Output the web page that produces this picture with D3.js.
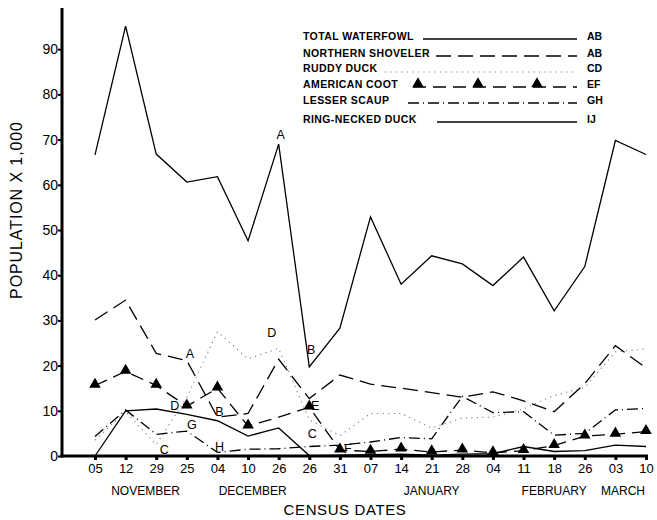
<!DOCTYPE html>
<html>
<head>
<meta charset="utf-8">
<script src="https://cdn.jsdelivr.net/npm/d3@7"></script>
<style>
  html, body { margin: 0; padding: 0; background: #fff; }
  svg { display: block; }
  text { font-family: "Liberation Sans", Arial, sans-serif; fill: #000; }
</style>
</head>
<body>
<svg id="chart" width="657" height="520"></svg>
<script>
// ---------- DATA ----------
const dates = ["05","12","29","25","04","10","26","26","31","07","14","21","28","04","11","18","26","03","10"];
const months = ["NOVEMBER","DECEMBER","JANUARY","FEBRUARY","MARCH"];
const monthAt = [1.65, 5.15, 11, 15, 17.25];   // date index under which each month name is centred
const yTicks = [0,10,20,30,40,50,60,70,80,90];

const totalWaterfowl    = [66.6, 95.1, 66.8, 60.6, 61.8, 47.6, 69.0, 19.7, 28.3, 52.9, 38.0, 44.3, 42.5, 37.7, 44.0, 32.1, 41.9, 69.8, 66.7];
const northernShoveler  = [30.1, 34.5, 22.7, 21.1, 8.6, 9.4, 21.4, 12.7, 17.9, 15.9, 15.0, 14.0, 13.0, 14.2, 12.2, 9.8, 16.0, 24.4, 19.5];
const ruddyDuck         = [3.5, 9.8, 2.5, 13.0, 27.5, 21.5, 23.8, 8.0, 4.5, 9.4, 9.4, 6.2, 8.4, 8.6, 10.4, 13.4, 15.2, 23.0, 23.7];
const americanCoot      = [15.6, 18.7, 15.6, 11.0, 15.0, 6.6, 8.6, 10.8, 1.3, 1.0, 1.5, 0.9, 1.3, 0.7, 1.2, 2.3, 4.4, 4.8, 5.4];
const cootNoMarker      = [6];
const lesserScaup       = [4.3, 10.2, 4.8, 5.5, 0.8, 1.5, 1.6, 2.1, 2.4, 3.1, 4.1, 3.8, 13.2, 9.6, 9.8, 4.6, 5.0, 10.2, 10.5];
const ringNeckedDuck    = [0, 10.0, 10.4, 9.2, 7.8, 4.4, 6.2, 0.1, 0.2, 0.3, 0.4, 0.2, 0.4, 0.5, 2.1, 1.0, 1.2, 2.4, 2.1];

const seriesNames = ["TOTAL WATERFOWL","NORTHERN SHOVELER","RUDDY DUCK","AMERICAN COOT","LESSER SCAUP","RING-NECKED DUCK"];
const seriesCodes = ["AB","AB","CD","EF","GH","IJ"];

// letter annotations: [letter, series index, date index]
const letters = [
  ["A",0,6],["B",0,7],["A",1,3],["B",1,4],["D",2,6],["C",2,2],["C",2,7],
  ["D",3,3],["E",3,7],["F",3,8],["G",4,3],["H",4,4]
];

// ---------- DRAW ----------
const seriesValues = [totalWaterfowl, northernShoveler, ruddyDuck, americanCoot, lesserScaup, ringNeckedDuck];
const styles = [
  {dash: null, w: 1.3, c: "#000"},
  {dash: "15,7", w: 1.3, c: "#000"},
  {dash: "1,4.5", w: 1.1, c: "#666"},
  {dash: "13,7", w: 1.3, c: "#000"},
  {dash: "11,4,1,4", w: 1.3, c: "#000"},
  {dash: null, w: 1.3, c: "#000"}
];

const svg = d3.select("#chart");
const x = d3.scaleLinear().domain([0, dates.length - 1]).range([95, 646]);
const y = d3.scaleLinear().domain([0, 99]).range([456, 8.5]);

const line = d3.line().x((d, i) => x(i)).y(d => y(d));

seriesValues.forEach((vals, s) => {
  svg.append("path")
    .attr("d", line(vals))
    .attr("fill", "none")
    .attr("stroke", styles[s].c)
    .attr("stroke-width", styles[s].w)
    .attr("stroke-dasharray", styles[s].dash)
    .attr("stroke-linejoin", "miter");
});

const tri = d3.symbol().type(d3.symbolTriangle).size(58);
americanCoot.forEach((v, i) => {
  if (cootNoMarker.includes(i)) return;
  svg.append("path").attr("d", tri()).attr("transform", `translate(${x(i)},${y(v) - 1})`).attr("fill", "#000");
});

// letters (offsets from the data point they label)
const letterOff = [
  [2, -8], [2, -16], [3, -6], [2, -4], [-7, -15], [8, 6], [3, 15],
  [-12, 0], [6, 0], [8, 0], [5, -5], [2, -5]
];
letters.forEach(([L, s, i], k) => {
  const off = letterOff[k];
  svg.append("text")
    .attr("x", x(i) + off[0]).attr("y", y(seriesValues[s][i]) + off[1])
    .attr("text-anchor", "middle").attr("dominant-baseline", "middle")
    .attr("font-size", 12.5).text(L);
});

// axes
const yAxis = d3.axisLeft(y).tickValues(yTicks).tickSize(4).tickFormat(d3.format("d"));
const gy = svg.append("g").attr("transform", "translate(62,0)").call(yAxis);
gy.select(".domain").remove();
gy.selectAll(".tick line").attr("stroke", "#000").attr("stroke-width", 2);
gy.selectAll(".tick text").attr("font-size", 14).attr("x", -4).attr("font-family", "Liberation Sans, Arial, sans-serif");

const xAxis = d3.axisBottom(x).tickValues(d3.range(dates.length)).tickSize(4).tickFormat(i => dates[i]);
const gx = svg.append("g").attr("transform", "translate(0,456)").call(xAxis);
gx.select(".domain").remove();
gx.selectAll(".tick line").attr("stroke", "#000").attr("stroke-width", 3);
gx.selectAll(".tick text").attr("font-size", 13).attr("y", 8).attr("font-family", "Liberation Sans, Arial, sans-serif");

svg.append("line").attr("x1", 62).attr("x2", 62).attr("y1", 8).attr("y2", 457.5).attr("stroke", "#000").attr("stroke-width", 3);
svg.append("line").attr("x1", 60.5).attr("x2", 648).attr("y1", 456).attr("y2", 456).attr("stroke", "#000").attr("stroke-width", 3);

// month labels
months.forEach((m, k) => {
  svg.append("text").attr("x", x(monthAt[k])).attr("y", 495)
    .attr("text-anchor", "middle").attr("font-size", 12).text(m);
});
svg.append("text").attr("x", 345).attr("y", 515).attr("text-anchor", "middle")
  .attr("font-size", 15).attr("letter-spacing", 0.6).text("CENSUS DATES");
svg.append("text").attr("transform", "translate(22,210) rotate(-90)").attr("text-anchor", "middle")
  .attr("font-size", 16).attr("letter-spacing", 0.9).text("POPULATION X 1,000");

// legend
const legY = [40, 57, 72, 88, 104, 123];
const legLineStart = [423, 436, 385, 413, 408, 437];
const legLineEnd = 577;
seriesNames.forEach((n, s) => {
  svg.append("text").attr("x", 303).attr("y", legY[s]).attr("font-size", 10.5)
    .attr("letter-spacing", 0.4).attr("font-weight", "bold").text(n);
  svg.append("line").attr("x1", legLineStart[s]).attr("x2", legLineEnd)
    .attr("y1", legY[s] - (s === 2 ? 0 : 1)).attr("y2", legY[s] - (s === 2 ? 0 : 1))
    .attr("stroke", styles[s].c).attr("stroke-width", styles[s].w)
    .attr("stroke-dasharray", styles[s].dash);
  svg.append("text").attr("x", 587).attr("y", legY[s]).attr("font-size", 10.5)
    .attr("font-weight", "bold").text(seriesCodes[s]);
});
[418, 478, 537].forEach(px => {
  svg.append("path").attr("d", tri()).attr("transform", `translate(${px},${legY[3] - 4})`).attr("fill", "#000");
});
</script>
</body>
</html>
